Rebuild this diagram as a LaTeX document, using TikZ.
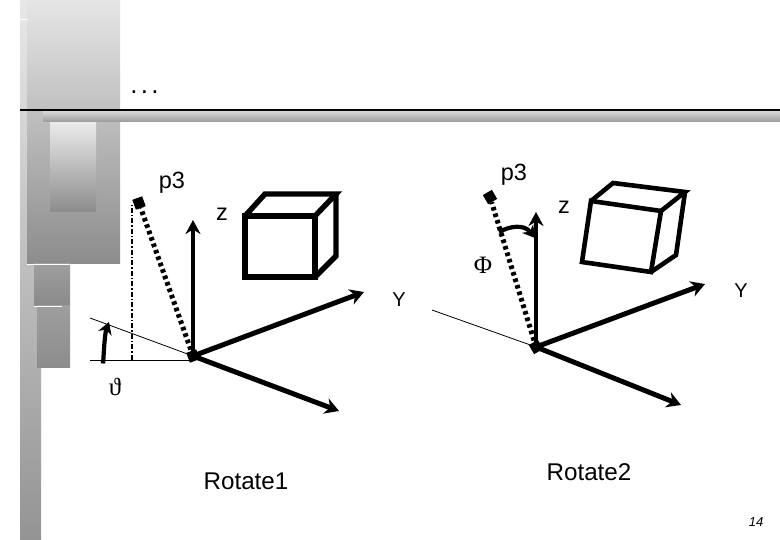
\documentclass[tikz,border=0pt]{standalone}
\usepackage{xcolor}
\usepackage{fontspec}
\setmainfont{Liberation Sans}
\newfontfamily\symfont{Liberation Serif}
\usetikzlibrary{arrows.meta,positioning,shapes.geometric}

\begin{document}
\begin{tikzpicture}[
  x=1pt, y=-1pt,
  axislabel/.style={inner sep=0pt, font=\fontsize{23.5}{26}\selectfont},
  ylabel/.style={inner sep=0pt, font=\fontsize{20}{24}\selectfont},
  rotlabel/.style={inner sep=0pt, font=\fontsize{24.2}{28}\selectfont},
  anglelabel/.style={inner sep=0pt, font=\symfont\fontsize{25}{30}\selectfont},
  axisarr/.style={-{Stealth[length=14pt, width=16pt]}, line width=5pt, black},
  uparr/.style={-{Stealth[length=14pt, width=15pt]}, line width=4pt, black},
  thinline/.style={line width=0.8pt, black},
  ray/.style={line width=5pt, dash pattern=on 3.6pt off 3.2pt, black},
  raytip/.style={draw=none, fill=black, minimum size=10.5pt, inner sep=0pt, shape=rectangle},
  cube/.style={line width=5.4pt, black, line join=miter},
  turnarr/.style={-{Stealth[length=12pt, width=14pt]}, line width=4.2pt, black}
]
\useasboundingbox (0,0) rectangle (780,540);
\fill[white] (0,0) rectangle (780,540);

% Backdrop
\shade[top color=black!9, bottom color=black!42] (20,0) rectangle (41,540);
\shade[top color=black!10, bottom color=black!45] (27,0) rectangle (120,264);
\shade[top color=black!38, bottom color=black!46] (34,264) rectangle (70,306);
\shade[top color=black!38, bottom color=black!45] (37,306) rectangle (70,368);
\shade[top color=black!8, bottom color=black!45] (50,122) rectangle (96,212);
\shade[top color=black!15, bottom color=black!40] (43,111) rectangle (780,122);
\fill[white] (27,263.6) rectangle (70,264.4);
\fill[white] (34,305.6) rectangle (62,306.4);
\fill[white] (20,19.2) rectangle (28,20);
\coordinate (ruleA) at (20,110.5);
\coordinate (ruleB) at (780,110.5);
\draw[line width=2pt] (ruleA) -- (ruleB);
\node[inner sep=0pt, font=\fontsize{26}{28}\selectfont] (dots) at (144.5,92) {.\kern3.3pt.\kern3.3pt.};

% Rotate1
\coordinate (orgA) at (193,356);
\coordinate (zA) at (193,220);
\coordinate (yA) at (364,292);
\coordinate (xA) at (339,411);
\coordinate (baseA) at (90,360);
\coordinate (endA) at (195,360);
\coordinate (slantA) at (90,318);
\coordinate (footA) at (132,360);
\coordinate (turnA) at (103,360);
\coordinate (turnendA) at (109,322);
\node[raytip, rotate=20] (pA) at (139,203) {};
\coordinate (topA) at (132,205);

\draw[thinline] (baseA) -- (endA);
\draw[thinline] (slantA) -- (orgA);
\draw[line width=1.4pt, dash pattern=on 5pt off 2pt on 1.5pt off 2pt] (footA) -- (topA);
\draw[ray] (orgA) -- (pA);
\draw[uparr] (orgA) -- (zA);
\draw[axisarr] (orgA) -- (yA);
\draw[axisarr] (orgA) -- (xA);
\node[raytip, rotate=20] (hubA) at (orgA) {};
\draw[turnarr] (turnA) to[out=-90, in=-110] (turnendA);

\draw[cube] (245,216) rectangle (315,277);
\draw[cube] (245,216) -- (265,194) -- (336,194) -- (315,216);
\draw[cube] (336,194) -- (336,256) -- (315,277);

\node[axislabel] (p3A) at (172,183) {p3};
\node[axislabel] (zlabA) at (222,214) {z};
\node[ylabel] (ylabA) at (399,300) {Y};
\node[anglelabel] (thetaA) at (115,387) {ϑ};
\node[rotlabel] (rotA) at (246,481) {Rotate1};

% Rotate2
\coordinate (orgB) at (536,347);
\coordinate (zB) at (536,212);
\coordinate (yB) at (705,284);
\coordinate (xB) at (681,405);
\coordinate (slantB) at (432,310);
\coordinate (turnB) at (499,232);
\coordinate (turnendB) at (535,238);
\node[raytip, rotate=30] (pB) at (490,197) {};

\draw[thinline] (slantB) -- (orgB);
\draw[ray] (orgB) -- (pB);
\draw[uparr] (orgB) -- (zB);
\draw[axisarr] (orgB) -- (yB);
\draw[axisarr] (orgB) -- (xB);
\node[raytip, rotate=30] (hubB) at (orgB) {};
\draw[turnarr] (turnB) .. controls (510,226) and (524,224) .. (turnendB);

\draw[cube, line width=4.6pt] (591,201) -- (661,211) -- (651,272) -- (582,262) -- cycle;
\draw[cube, line width=4.6pt] (591,201) -- (613,183) -- (685,192) -- (661,211);
\draw[cube, line width=4.6pt] (685,192) -- (676,255) -- (651,272);

\node[axislabel] (p3B) at (514,175) {p3};
\node[axislabel] (zlabB) at (564,207) {z};
\node[ylabel] (ylabB) at (741,291) {Y};
\node[anglelabel] (phiB) at (483,265) {Φ};
\node[rotlabel] (rotB) at (589,472) {Rotate2};

% Page number
\node[inner sep=0pt, font=\fontsize{13}{15}\selectfont\itshape] (page) at (756,522) {14};
\end{tikzpicture}
\end{document}
